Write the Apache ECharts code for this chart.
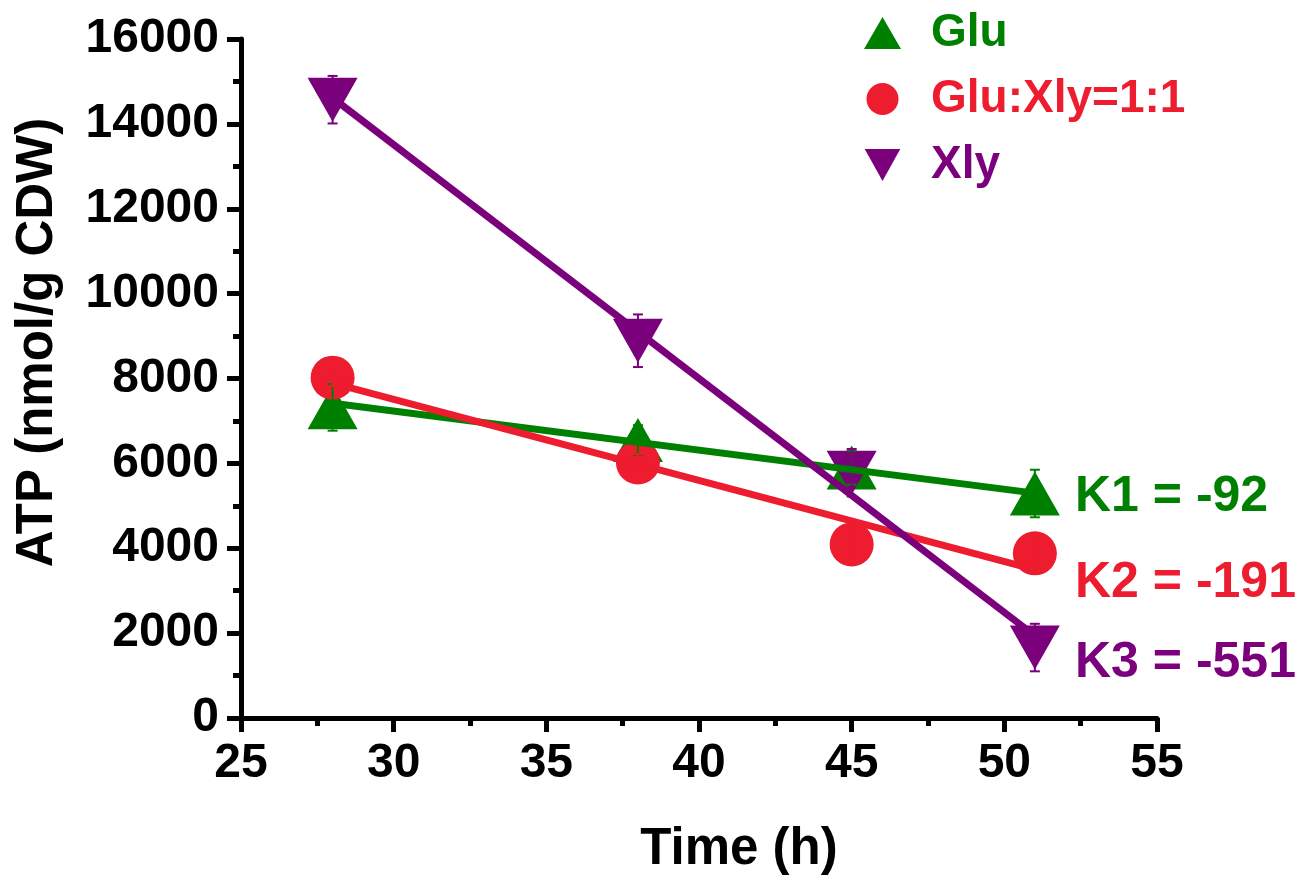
<!DOCTYPE html>
<html lang="en">
  <head>
    <meta charset="UTF-8" />
    <title>ATP vs Time</title>
    <script src="https://cdn.jsdelivr.net/npm/echarts@6/dist/echarts.min.js"></script>
    <style>
      body { margin: 0; background: #fff; }
    </style>
  </head>
  <body>
    <div id="main" style="width: 1310px; height: 880px"></div>

    <script type="text/javascript">
      // sampling times (h)
      const times = [28, 38, 45, 51];

      // ATP, nmol/g CDW
      const gluATP = [7320, 6550, 5900, 5290];
      const gluErr = [550, 350, 400, 560];
      const mixATP = [8020, 6020, 4090, 3880];
      const mixErr = [200, 200, 200, 200];
      const xlyATP = [14570, 8890, 5780, 1660];
      const xlyErr = [560, 620, 560, 560];

      // fitted slopes shown on the chart
      const slopes = [-92, -191, -551];
      const slopeLabels = ["K1 = -92", "K2 = -191", "K3 = -551"];

      const names = ["Glu", "Glu:Xly=1:1", "Xly"];
      const colors = ["#008000", "#ED1C2E", "#7B007B"];
      const font = '"Liberation Sans", Arial, sans-serif';

      // line with the given slope through the mean point of each series
      function fitLine(ys, k) {
        const mx = times.reduce((a, b) => a + b, 0) / times.length;
        const my = ys.reduce((a, b) => a + b, 0) / ys.length;
        const x0 = times[0];
        const x1 = times[times.length - 1];
        return [
          [x0, my + k * (x0 - mx)],
          [x1, my + k * (x1 - mx)],
        ];
      }

      function errorSeries(ys, errs, color) {
        return {
          type: "custom",
          z: 3,
          data: times.map((t, i) => [t, ys[i], errs[i]]),
          renderItem: function (params, api) {
            const x = api.value(0), y = api.value(1), e = api.value(2);
            const top = api.coord([x, y + e]);
            const bot = api.coord([x, y - e]);
            const w = 5;
            const st = { stroke: color, lineWidth: 2 };
            return {
              type: "group",
              children: [
                { type: "line", shape: { x1: top[0], y1: top[1], x2: bot[0], y2: bot[1] }, style: st },
                { type: "line", shape: { x1: top[0] - w, y1: top[1], x2: top[0] + w, y2: top[1] }, style: st },
                { type: "line", shape: { x1: bot[0] - w, y1: bot[1], x2: bot[0] + w, y2: bot[1] }, style: st },
              ],
            };
          },
        };
      }

      const allY = [gluATP, mixATP, xlyATP];
      const allErr = [gluErr, mixErr, xlyErr];
      const symbols = ["triangle", "circle", "triangle"];
      const symbolSizes = [[50, 44], 44, [50, 44]];
      const rotates = [0, 0, 180];

      const series = [];
      allY.forEach((ys, i) => {
        series.push({
          name: names[i],
          type: "scatter",
          z: 2,
          symbol: symbols[i],
          symbolSize: symbolSizes[i],
          symbolRotate: rotates[i],
          itemStyle: { color: colors[i], opacity: 1 },
          data: times.map((t, j) => [t, ys[j]]),
        });
      });
      allY.forEach((ys, i) => series.push(errorSeries(ys, allErr[i], colors[i])));
      allY.forEach((ys, i) => {
        series.push({
          name: names[i] + " fit",
          type: "line",
          z: 4,
          showSymbol: false,
          lineStyle: { color: colors[i], width: 7 },
          data: fitLine(ys, slopes[i]),
        });
      });

      const axisCommon = {
        axisLine: { show: true, lineStyle: { color: "#000", width: 5 } },
        axisTick: { show: true, inside: false, length: 14, lineStyle: { color: "#000", width: 5 } },
        minorTick: { show: true, splitNumber: 2, length: 8, lineStyle: { color: "#000", width: 5 } },
        splitLine: { show: false },
        axisLabel: {
          color: "#000",
          fontSize: 48,
          fontWeight: "bold",
          fontFamily: font,
          margin: 22,
          formatter: (v) => String(v),
        },
        nameLocation: "middle",
      };

      const myChart = echarts.init(document.getElementById("main"));
      myChart.setOption({
        backgroundColor: "#fff",
        animation: false,
        grid: { left: 241, right: 153, top: 39, bottom: 157, containLabel: false },
        xAxis: Object.assign({}, axisCommon, {
          type: "value",
          min: 25,
          max: 55,
          interval: 5,
          name: "Time (h)",
          nameGap: 106,
          nameTextStyle: { color: "#000", fontSize: 51, fontWeight: "bold", fontFamily: font, padding: [0, 0, 0, 80] },
        }),
        yAxis: Object.assign({}, axisCommon, {
          type: "value",
          min: 0,
          max: 16000,
          interval: 2000,
          name: "ATP (nmol/g CDW)",
          nameGap: 178,
          nameTextStyle: { color: "#000", fontSize: 51, fontWeight: "bold", fontFamily: font, padding: [0, 0, 0, 72] },
        }),
        legend: {
          orient: "vertical",
          left: 859,
          top: 5,
          itemWidth: 37,
          itemHeight: 32,
          itemGap: 20,
          data: [
            { name: names[0], icon: "triangle", textStyle: { color: colors[0] } },
            { name: names[1], icon: "circle", textStyle: { color: colors[1] } },
            { name: names[2], icon: "path://M0,0L10,0L5,9Z", textStyle: { color: colors[2] } },
          ],
          textStyle: { fontSize: 46, fontWeight: "bold", fontFamily: font, padding: [0, 0, 0, 25] },
        },
        graphic: slopeLabels.map((txt, i) => ({
          type: "text",
          x: 1075,
          y: [497, 583, 663][i],
          style: {
            text: txt,
            fill: colors[i],
            font: "bold 50px " + font,
            verticalAlign: "middle",
          },
        })),
        series: series,
      });
    </script>
  </body>
</html>
